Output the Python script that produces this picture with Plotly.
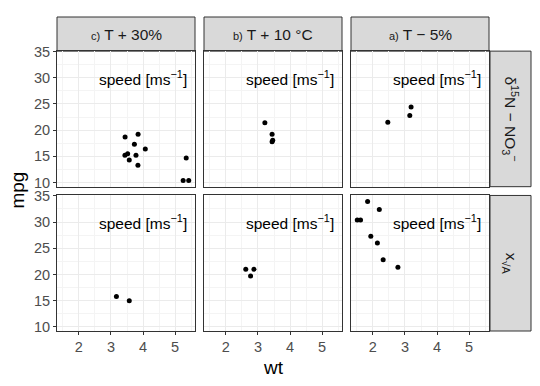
import plotly.graph_objects as go

# ---- data (mtcars: wt, mpg, facet column / row) ----
wt = [2.620, 2.875, 2.320, 3.215, 3.440, 3.460, 3.570, 3.190, 3.150, 3.440, 3.440,
      4.070, 3.730, 3.780, 5.250, 5.424, 5.345, 2.200, 1.615, 1.835, 2.465, 3.520,
      3.435, 3.840, 3.845, 1.935, 2.140, 1.513, 3.170, 2.770, 3.570, 2.780]
mpg = [21.0, 21.0, 22.8, 21.4, 18.7, 18.1, 14.3, 24.4, 22.8, 19.2, 17.8,
       16.4, 17.3, 15.2, 10.4, 10.4, 14.7, 32.4, 30.4, 33.9, 21.5, 15.5,
       15.2, 13.3, 19.2, 27.3, 26.0, 30.4, 15.8, 19.7, 15.0, 21.4]
cyl = [6, 6, 4, 6, 8, 6, 8, 4, 4, 6, 6, 8, 8, 8, 8, 8, 8, 4, 4, 4, 4, 8,
       8, 8, 8, 4, 4, 4, 8, 6, 8, 4]
am = [1, 1, 1, 0, 0, 0, 0, 0, 0, 0, 0, 0, 0, 0, 0, 0, 0, 1, 1, 1, 0, 0,
      0, 0, 0, 1, 1, 1, 1, 1, 1, 1]

col_levels = [8, 6, 4]
row_levels = [0, 1]
col_labels = ["<span style='font-size:11px'>c)</span> T + 30%",
              "<span style='font-size:11px'>b)</span> T + 10 °C",
              "<span style='font-size:11px'>a)</span> T − 5%"]
row_labels = ["δ<sup>15</sup>N − NO<sub>3</sub><sup>−</sup>",
              "x<sub>√A</sub>"]
x_ticks = [2, 3, 4, 5]
y_ticks = [10, 15, 20, 25, 30, 35]
label_text = "speed [ms<sup>−1</sup>]"
label_x, label_y = 4, 30

# ---- layout geometry (pixels) ----
W, H = 540, 386
L, R, T, B = 57, 531, 9, 331
pw, ph = R - L, B - T
def px(x): return (x - L) / pw
def py(y): return (B - y) / ph

cols_px = [(57, 195), (204, 342), (351, 489)]
rows_px = [(44, 183), (192, 331)]
strip_top = (9, 44)
strip_right = (490, 531)

xr = [1.3175, 5.6195]
yr = [9.225, 35.075]

fig = go.Figure()
layout = dict(
    width=W, height=H,
    margin=dict(l=L, r=W - R, t=T, b=H - B, pad=0),
    paper_bgcolor="white", plot_bgcolor="white",
    showlegend=False,
    font=dict(family="Liberation Sans, Arial, sans-serif", color="#1A1A1A"),
)
shapes = []
annotations = []

grid_major = "#EBEBEB"
grid_minor = "#F4F4F4"
k = 0
for ri, rv in enumerate(row_levels):
    for ci, cv in enumerate(col_levels):
        k += 1
        xa = "xaxis" if k == 1 else f"xaxis{k}"
        ya = "yaxis" if k == 1 else f"yaxis{k}"
        xref = "x" if k == 1 else f"x{k}"
        yref = "y" if k == 1 else f"y{k}"
        xs = [w for w, c, a in zip(wt, cyl, am) if c == cv and a == rv]
        ys = [m for m, c, a in zip(mpg, cyl, am) if c == cv and a == rv]
        fig.add_trace(go.Scatter(x=xs, y=ys, mode="markers", xaxis=xref, yaxis=yref,
                                 marker=dict(color="black", size=5), hoverinfo="skip"))
        x0, x1 = cols_px[ci]
        y0, y1 = rows_px[ri]
        bottom = ri == len(row_levels) - 1
        left = ci == 0
        layout[xa] = dict(
            domain=[px(x0), px(x1)], range=xr, anchor=yref,
            tickvals=x_ticks, showticklabels=bottom,
            ticks="outside" if bottom else "", ticklen=3, tickcolor="#333333",
            tickfont=dict(size=14.5, color="#4D4D4D"),
            showgrid=True, gridcolor=grid_major, gridwidth=1,
            minor=dict(tickvals=[1.5, 2.5, 3.5, 4.5, 5.5], showgrid=True,
                       gridcolor=grid_minor, gridwidth=1, ticks=""),
            showline=True, linecolor="#333333", linewidth=1, mirror=True,
            zeroline=False, fixedrange=True,
        )
        layout[ya] = dict(
            domain=[py(y1), py(y0)], range=yr, anchor=xref,
            tickvals=y_ticks, showticklabels=left,
            ticks="outside" if left else "", ticklen=3, tickcolor="#333333",
            tickfont=dict(size=14.5, color="#4D4D4D"),
            showgrid=True, gridcolor=grid_major, gridwidth=1,
            minor=dict(tickvals=[12.5, 17.5, 22.5, 27.5, 32.5], showgrid=True,
                       gridcolor=grid_minor, gridwidth=1, ticks=""),
            showline=True, linecolor="#333333", linewidth=1, mirror=True,
            zeroline=False, fixedrange=True,
        )
        annotations.append(dict(text=label_text, x=label_x, y=label_y, xref=xref, yref=yref,
                                showarrow=False, font=dict(size=15.5, color="black"),
                                xanchor="center", yanchor="middle"))

# column strips
for ci, lab in enumerate(col_labels):
    x0, x1 = cols_px[ci]
    shapes.append(dict(type="rect", xref="paper", yref="paper",
                       x0=px(x0), x1=px(x1), y0=py(strip_top[1]), y1=py(strip_top[0]),
                       fillcolor="#D9D9D9", line=dict(color="#333333", width=1), layer="below"))
    annotations.append(dict(text=lab, xref="paper", yref="paper",
                            x=px((x0 + x1) / 2), y=py(sum(strip_top) / 2),
                            showarrow=False, font=dict(size=15.5, color="#1A1A1A"),
                            xanchor="center", yanchor="middle"))
# row strips
for ri, lab in enumerate(row_labels):
    y0, y1 = rows_px[ri]
    shapes.append(dict(type="rect", xref="paper", yref="paper",
                       x0=px(strip_right[0]), x1=px(strip_right[1]), y0=py(y1), y1=py(y0),
                       fillcolor="#D9D9D9", line=dict(color="#333333", width=1), layer="below"))
    annotations.append(dict(text=lab, xref="paper", yref="paper",
                            x=px(sum(strip_right) / 2), y=py((y0 + y1) / 2),
                            showarrow=False, textangle=90, font=dict(size=15.5, color="#1A1A1A"),
                            xanchor="center", yanchor="middle"))

# axis titles
annotations.append(dict(text="wt", xref="paper", yref="paper",
                        x=px((57 + 489) / 2), y=py(368), showarrow=False,
                        font=dict(size=19, color="black"), xanchor="center", yanchor="middle"))
annotations.append(dict(text="mpg", xref="paper", yref="paper",
                        x=px(18), y=py(187), showarrow=False, textangle=-90,
                        font=dict(size=19, color="black"), xanchor="center", yanchor="middle"))

layout["shapes"] = shapes
layout["annotations"] = annotations
fig.update_layout(**layout)
fig.write_html("out.html", config={"displayModeBar": False},
               post_script="document.body.style.margin='0px';")
